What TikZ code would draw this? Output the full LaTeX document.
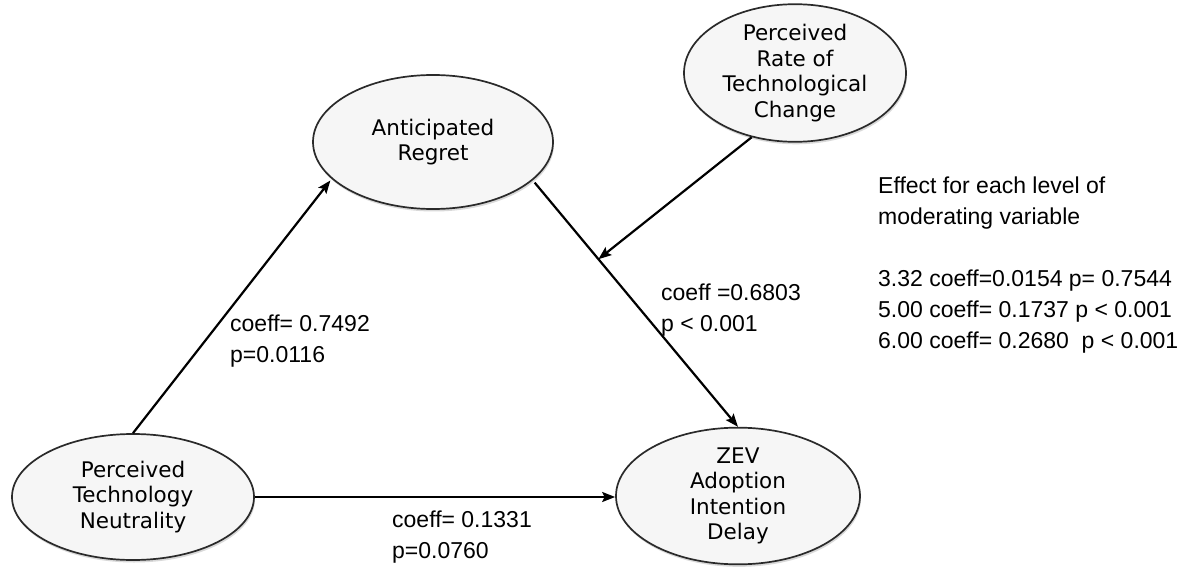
\documentclass[tikz,border=0pt]{standalone}
\usepackage{fontspec}
\setmainfont{Liberation Sans}
\newfontfamily\ellfont{DejaVu Sans}
\usetikzlibrary{shapes.geometric,arrows.meta,shadows}

\definecolor{ellfill}{HTML}{F6F6F6}
\definecolor{ellline}{HTML}{2A2A2A}

\begin{document}
\begin{tikzpicture}[x=1pt,y=-1pt,
  construct/.style={ellipse, draw=ellline, line width=1.7pt, fill=ellfill,
    inner sep=0pt, align=center,
    font=\ellfont\fontsize{21.5}{25.5}\selectfont,
    drop shadow={shadow xshift=1pt, shadow yshift=-2.5pt, opacity=0.25, fill=black!60}},
  path/.style={line width=2.2pt, -{Stealth[length=13pt,width=10pt,inset=2.5pt]}},
  stat/.style={anchor=west, align=left, inner sep=0pt,
    font=\fontsize{23}{31}\selectfont}]
  \useasboundingbox (0,0) rectangle (1186,572);

  % constructs
  \node[construct, minimum width=242pt, minimum height=126pt] (ptn) at (133,497)
    {Perceived\\Technology\\Neutrality};
  \node[construct, minimum width=240pt, minimum height=134pt] (ar) at (433,142)
    {Anticipated\\Regret};
  \node[construct, minimum width=222pt, minimum height=127pt] (prtc) at (795,73)
    {Perceived\\Rate of\\Technological\\Change};
  \node[construct, minimum width=244pt, minimum height=126pt] (zev) at (738,496)
    {ZEV\\Adoption\\Intention\\Delay};

  % paths
  \draw[path, shorten >=2pt] (ptn.north) -- (ar.200);
  \draw[path, shorten <=3pt] (ar.-21) -- coordinate[pos=0.32] (mod) (zev.north);
  \draw[path] (ptn.east) -- (ptn.east -| zev.west);
  \draw[path] (prtc.236) -- (mod);

  % coefficients
  \node[stat] (s1) at (230,341) {coeff= 0.7492\\p=0.0116};
  \node[stat] (s2) at (661,310) {coeff =0.6803\\p < 0.001};
  \node[stat] (s3) at (392,537) {coeff= 0.1331\\p=0.0760};
  \node[stat] (s4) at (878,265) {Effect for each level of\\moderating variable\\[31pt]
    3.32 coeff=0.0154 p= 0.7544\\5.00 coeff= 0.1737 p < 0.001\\6.00 coeff= 0.2680~ p < 0.001};
\end{tikzpicture}
\end{document}
